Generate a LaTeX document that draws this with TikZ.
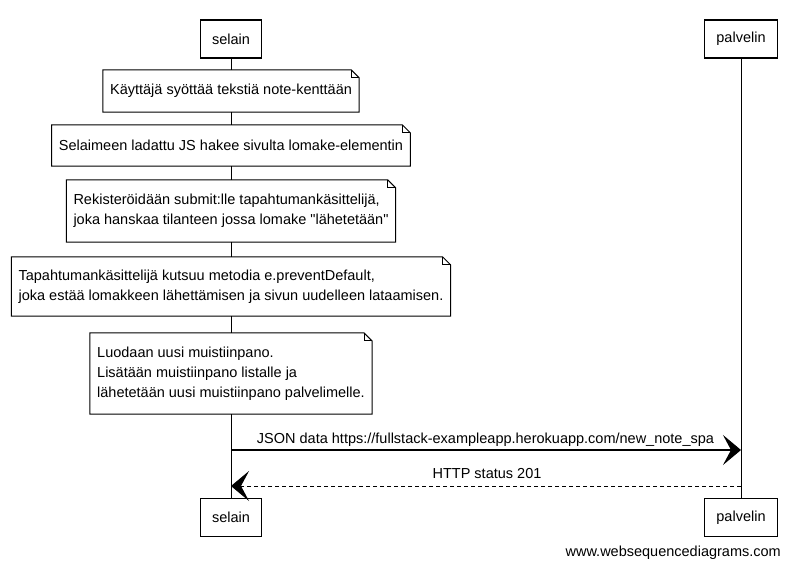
\documentclass[tikz,border=0pt]{standalone}
\usepackage{fontspec}
\setmainfont{Liberation Sans}[Ligatures=TeXOff]
\usetikzlibrary{arrows.meta}
\newcommand\noteoutline[1]{%
  \draw[noteline] (#1.north west) -- ([xshift=-8pt]#1.north east) -- ([yshift=-8pt]#1.north east) -- (#1.south east) -- (#1.south west) -- cycle;
  \draw[noteline] ([xshift=-8pt]#1.north east) |- ([yshift=-8pt]#1.north east);}
\begin{document}
\begin{tikzpicture}[x=1pt,y=-1pt,
  font=\fontsize{14.5}{20}\selectfont,
  actor/.style={draw, line width=1.1pt, inner xsep=12pt, minimum height=38pt, fill=white},
  notebox/.style={fill=white, inner xsep=7pt, inner ysep=0pt, align=left},
  noteline/.style={line width=1pt},
  life/.style={line width=0.9pt},
  msg/.style={line width=1.1pt, -{Stealth[length=18pt, width=30pt, inset=8pt]}},
  reply/.style={msg, line width=0.9pt, dash pattern=on 4pt off 3pt}]
\useasboundingbox (0,0) rectangle (789,566);
\fill[white] (0,0) rectangle (789,566);
% actors
\node[actor] (st) at (231,39) {selain};
\node[actor] (pt) at (741,39) {palvelin};
\node[actor] (sb) at (231,517.5) {selain};
\node[actor] (pb) at (741,517.5) {palvelin};
\draw[life] (st) -- (sb);
\draw[life] (pt) -- (pb);
% notes
\node[notebox, minimum height=42pt] (n1) at (231,91) {Käyttäjä syöttää tekstiä note-kenttään};
\noteoutline{n1}
\node[notebox, minimum height=41pt] (n2) at (231,145.5) {Selaimeen ladattu JS hakee sivulta lomake-elementin};
\noteoutline{n2}
\node[notebox, minimum height=62pt] (n3) at (231,211) {Rekisteröidään submit:lle tapahtumankäsittelijä,\\joka hanskaa tilanteen jossa lomake "lähetetään"};
\noteoutline{n3}
\node[notebox, minimum height=59pt] (n4) at (231,286.5) {Tapahtumankäsittelijä kutsuu metodia e.preventDefault,\\joka estää lomakkeen lähettämisen ja sivun uudelleen lataamisen.};
\noteoutline{n4}
\node[notebox, minimum height=81pt] (n5) at (231,373.5) {Luodaan uusi muistiinpano.\\Lisätään muistiinpano listalle ja\\lähetetään uusi muistiinpano palvelimelle.};
\noteoutline{n5}
% messages
\coordinate (m1s) at (231,450);
\coordinate (m1e) at (741,450);
\coordinate (m2s) at (741,486);
\coordinate (m2e) at (231,486);
\draw[msg] (m1s) -- (m1e);
\node (l1) at (485.5,440) {JSON data https://fullstack-exampleapp.herokuapp.com/new\_note\_spa};
\draw[reply] (m2s) -- (m2e);
\node (l2) at (487,473) {HTTP status 201};
% watermark
\node[anchor=base east, inner sep=0pt] (wm) at (781,556) {www.websequencediagrams.com};
\end{tikzpicture}
\end{document}
